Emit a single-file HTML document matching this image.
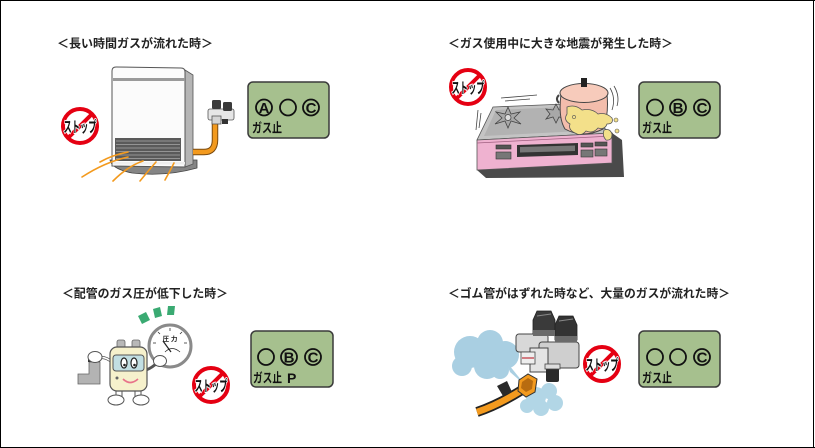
<!DOCTYPE html>
<html><head><meta charset="utf-8"><style>
html,body{margin:0;padding:0;background:#fff;}
svg{display:block;}
.t{font-family:"Liberation Sans","Noto Sans CJK JP",sans-serif;font-weight:bold;}
</style></head><body>
<svg width="815" height="448" viewBox="0 0 815 448" xmlns="http://www.w3.org/2000/svg">
<rect x="0" y="0" width="815" height="448" fill="#fff"/>
<rect x="0" y="0" width="815" height="1" fill="#000"/>
<rect x="0" y="0" width="1" height="448" fill="#000"/>
<rect x="813" y="0" width="1" height="448" fill="#000"/>
<rect x="0" y="447" width="815" height="1" fill="#000"/>

<!-- Titles -->
<text class="t" x="57" y="47.5" font-size="12" fill="#222" textLength="156" lengthAdjust="spacingAndGlyphs">＜長い時間ガスが流れた時＞</text>
<text class="t" x="448" y="47.5" font-size="12" fill="#222" textLength="225" lengthAdjust="spacingAndGlyphs">＜ガス使用中に大きな地震が発生した時＞</text>
<text class="t" x="62" y="297.5" font-size="12" fill="#222" textLength="166" lengthAdjust="spacingAndGlyphs">＜配管のガス圧が低下した時＞</text>
<text class="t" x="448" y="297.5" font-size="12" fill="#222" textLength="282" lengthAdjust="spacingAndGlyphs">＜ゴム管がはずれた時など、大量のガスが流れた時＞</text>

<!-- ===== Scene 1: heater ===== -->
<path d="M110,160 L197,160 L197,168 Q165,177 132,173 Q112,169 110,160 Z" fill="#858585" stroke="#444" stroke-width="0.8"/>
<polygon points="185,70 193,75 193,164 185,167" fill="#b5b5b5" stroke="#555" stroke-width="0.8"/>
<path d="M112,166 L112,71 Q112,67 116,67 L181,68 Q185,68 185,72 L185,167 Z" fill="#fbfbfb" stroke="#555" stroke-width="1"/>
<rect x="113" y="78" width="72" height="3" fill="#9a9a9a"/>
<rect x="115" y="138" width="66" height="23" fill="#5a5a5a"/>
<g stroke="#a8a8a8" stroke-width="0.8">
<line x1="116" y1="141" x2="180" y2="141"/><line x1="116" y1="144.5" x2="180" y2="144.5"/>
<line x1="116" y1="148" x2="180" y2="148"/><line x1="116" y1="151.5" x2="180" y2="151.5"/>
<line x1="116" y1="155" x2="180" y2="155"/><line x1="116" y1="158.5" x2="180" y2="158.5"/>
</g>
<rect x="113" y="162" width="72" height="2.5" fill="#eee"/>
<!-- hose -->
<path d="M193,152 L204,152 Q215,152 215,140 L215,122" fill="none" stroke="#7a4a10" stroke-width="6.5"/>
<path d="M193,152 L204,152 Q215,152 215,140 L215,122" fill="none" stroke="#f39a1e" stroke-width="4.5"/>
<!-- valve -->
<rect x="208" y="109" width="26" height="11" rx="2" fill="#e6e6e6" stroke="#555" stroke-width="0.8"/>
<rect x="212" y="116" width="9" height="8" fill="#d5d5d5" stroke="#555" stroke-width="0.8"/>
<rect x="212" y="100" width="9" height="9" rx="1.5" fill="#3a3a3a"/>
<rect x="223" y="102" width="9" height="9" rx="1.5" fill="#3a3a3a"/>
<rect x="222" y="119" width="6" height="5" fill="#333"/>
<!-- heat waves -->
<g fill="none" stroke="#f39a1e" stroke-width="1.6" stroke-linecap="round">
<path d="M100,162 Q112,155 128,152"/>
<path d="M82,177 Q105,162 128,157"/>
<path d="M113,181 Q128,166 143,161"/>
<path d="M140,181 Q149,170 156,162"/>
<path d="M165,180 Q170,171 174,163"/>
</g>
<!-- stop 1 -->
<g transform="translate(80,126)">
<circle r="17" fill="#fff" stroke="#e50012" stroke-width="4"/>
<line x1="-12" y1="12" x2="12" y2="-12" stroke="#e50012" stroke-width="4"/>
<text class="t" x="-16.5" y="6" font-size="15" fill="#111" stroke="#fff" stroke-width="2" paint-order="stroke" textLength="33" lengthAdjust="spacingAndGlyphs">ストップ</text>
</g>
<!-- panel 1 -->
<rect x="248" y="82" width="81" height="56" rx="5" fill="#a6c08e" stroke="#3a3a3a" stroke-width="1.5"/>
<g fill="none" stroke="#111" stroke-width="1.8">
<circle cx="264" cy="107.5" r="8"/><circle cx="288" cy="107.5" r="8"/><circle cx="311" cy="107.5" r="8"/>
</g>
<text class="t" x="264" y="113" font-size="15" text-anchor="middle" fill="#111">A</text>
<text class="t" x="311" y="113" font-size="15" text-anchor="middle" fill="#111">C</text>
<text class="t" x="252" y="132.5" font-size="13" fill="#111" textLength="30" lengthAdjust="spacingAndGlyphs">ガス止</text>

<!-- ===== Scene 2: stove ===== -->
<polygon points="612,133 622,140 624,177 486,178 477,170 612,163" fill="#4a4a4a"/>
<polygon points="493,107 565,104 612,133 477,140" fill="#c4c4c4" stroke="#555" stroke-width="0.8"/>
<polygon points="496,110 562,107 600,130 484,136" fill="#b2b2b2"/>
<polygon points="477,140 612,133 612,163 477,170" fill="#efb2d0" stroke="#555" stroke-width="0.8"/>
<line x1="477" y1="143" x2="612" y2="136" stroke="#a06080" stroke-width="0.8"/>
<polygon points="517,145 578,143 578,155 517,157" fill="#333"/>
<polygon points="520,147 575,145.5 575,151 520,152.5" fill="#777"/>
<g fill="#555" stroke="#333" stroke-width="0.6">
<rect x="496" y="145" width="15" height="4"/><rect x="496" y="152" width="15" height="7" fill="#777"/>
<rect x="581" y="143" width="12" height="4"/><rect x="595" y="142" width="12" height="4"/>
<rect x="581" y="150" width="12" height="7" fill="#777"/><rect x="595" y="149" width="12" height="7" fill="#777"/>
</g>
<!-- burners -->
<g fill="#a8a8a8" stroke="#444" stroke-width="0.8">
<polygon points="508,107 511,114 520,112 514,118 521,124 511,121 508,128 505,121 495,124 502,118 496,112 505,114"/>
<circle cx="508" cy="117.5" r="3" fill="#ddd"/>
<polygon points="556,104 559,110 566,109 562,114 567,119 559,117 556,123 553,117 546,119 550,114 546,109 553,110"/>
</g>
<!-- motion lines -->
<g stroke="#444" stroke-width="0.8" fill="none">
<line x1="501" y1="98" x2="537" y2="95"/><line x1="505" y1="101" x2="530" y2="99"/>
<line x1="478" y1="110" x2="476" y2="130"/><line x1="481" y1="113" x2="479" y2="128"/>
<path d="M610,88 Q616,98 612,110"/><path d="M614,86 Q620,96 617,106"/>
</g>
<!-- pot -->
<path d="M561,94 Q558,118 565,129 Q583,139 603,129 Q609,115 607,94 Z" fill="#f3bdac" stroke="#444" stroke-width="1"/>
<ellipse cx="584" cy="93" rx="24" ry="9.5" fill="#f7cbbb" stroke="#444" stroke-width="1"/>
<rect x="581" y="78" width="6" height="9" fill="#222"/>
<path d="M559,95 Q555,99 559,103" fill="none" stroke="#444" stroke-width="2"/>
<!-- spill -->
<path d="M567,107 Q575,104 582,110 Q592,108 598,114 Q606,112 612,118 Q614,124 607,124 Q605,130 598,128 Q593,134 586,131 Q581,137 575,133 Q568,130 570,124 Q563,120 567,114 Z" fill="#f3e08a" stroke="#555" stroke-width="0.8"/>
<path d="M604,130 Q610,128 612,134 Q612,141 606,140 Q602,136 604,130 Z" fill="#f3e08a" stroke="#555" stroke-width="0.8"/>
<circle cx="616" cy="120" r="2" fill="#f3e08a" stroke="#555" stroke-width="0.6"/>
<circle cx="617" cy="131" r="2" fill="#f3e08a" stroke="#555" stroke-width="0.6"/>
<circle cx="574" cy="117" r="1.6" fill="#f3e08a" stroke="#555" stroke-width="0.6"/>
<!-- stop 2 -->
<g transform="translate(468,87)">
<circle r="17" fill="#fff" stroke="#e50012" stroke-width="4"/>
<line x1="-12" y1="12" x2="12" y2="-12" stroke="#e50012" stroke-width="4"/>
<text class="t" x="-16.5" y="6" font-size="15" fill="#111" stroke="#fff" stroke-width="2" paint-order="stroke" textLength="33" lengthAdjust="spacingAndGlyphs">ストップ</text>
</g>
<!-- panel 2 -->
<rect x="639" y="82" width="81" height="56" rx="5" fill="#a6c08e" stroke="#3a3a3a" stroke-width="1.5"/>
<g fill="none" stroke="#111" stroke-width="1.8">
<circle cx="655" cy="107.5" r="8"/><circle cx="678" cy="107.5" r="8"/><circle cx="702" cy="107.5" r="8"/>
</g>
<text class="t" x="678" y="113" font-size="15" text-anchor="middle" fill="#111">B</text>
<text class="t" x="702" y="113" font-size="15" text-anchor="middle" fill="#111">C</text>
<text class="t" x="642" y="132.5" font-size="13" fill="#111" textLength="30" lengthAdjust="spacingAndGlyphs">ガス止</text>

<!-- ===== Scene 3: character ===== -->
<g fill="#3aaa72">
<polygon points="138,316 146,312 150,320 142,324"/>
<polygon points="153,309 160,307 162,316 155,318"/>
<polygon points="168,306 175,306 174,315 167,315"/>
</g>
<circle cx="170" cy="346" r="21" fill="#fff" stroke="#8a8a8a" stroke-width="3"/>
<g stroke="#333" stroke-width="0.8">
<line x1="170" y1="328" x2="170" y2="331"/><line x1="158" y1="332" x2="160" y2="334"/>
<line x1="182" y1="332" x2="180" y2="334"/><line x1="153" y1="343" x2="156" y2="343"/>
<line x1="187" y1="343" x2="184" y2="343"/>
</g>
<text class="t" x="170" y="341" font-size="6.5" text-anchor="middle" fill="#222">圧 力</text>
<line x1="171" y1="352" x2="163" y2="341" stroke="#222" stroke-width="1.2"/>
<path d="M165,352 Q172,345 180,352" fill="none" stroke="#222" stroke-width="0.8"/>
<path d="M78,374 L89,374 L89,362 L100,362 L100,384 L78,384 Z" fill="#b3b3b3" stroke="#666" stroke-width="0.8"/>
<rect x="88" y="357" width="12" height="5" fill="#333"/>
<path d="M98,358 Q105,356 112,362" fill="none" stroke="#555" stroke-width="3"/>
<path d="M98,358 Q105,356 112,362" fill="none" stroke="#fff" stroke-width="1.5"/>
<ellipse cx="95" cy="357" rx="7" ry="5.5" fill="#fff" stroke="#555" stroke-width="1"/>
<path d="M146,370 Q152,368 158,362" fill="none" stroke="#555" stroke-width="3"/>
<ellipse cx="160" cy="361" rx="6.5" ry="5.5" fill="#fff" stroke="#555" stroke-width="1"/>
<rect x="117" y="340" width="8" height="10" rx="2" fill="#b8b8b8" stroke="#666" stroke-width="0.8"/>
<rect x="132" y="340" width="8" height="10" rx="2" fill="#b8b8b8" stroke="#666" stroke-width="0.8"/>
<g fill="#fff" stroke="#555" stroke-width="1">
<rect x="116" y="388" width="6" height="9"/><rect x="135" y="388" width="6" height="9"/>
<ellipse cx="116" cy="400" rx="8" ry="5"/><ellipse cx="141" cy="400" rx="8" ry="5"/>
</g>
<rect x="110" y="347" width="37" height="44" rx="7" fill="#f6f1cc" stroke="#555" stroke-width="1.2"/>
<rect x="113" y="355" width="31" height="16" rx="3" fill="#c2dfe3" stroke="#555" stroke-width="1"/>
<g fill="#fff" stroke="#222" stroke-width="1.2">
<ellipse cx="124" cy="363" rx="3" ry="5"/><ellipse cx="134" cy="363" rx="3" ry="5"/>
</g>
<circle cx="124.5" cy="365" r="1.3" fill="#222"/><circle cx="134.5" cy="365" r="1.3" fill="#222"/>
<path d="M123,379 Q130,386 138,379" fill="none" stroke="#e8738a" stroke-width="1.6"/>
<circle cx="117" cy="378" r="1.5" fill="#666"/>
<g transform="translate(211,385)">
<circle r="17" fill="#fff" stroke="#e50012" stroke-width="4"/>
<line x1="-12" y1="12" x2="12" y2="-12" stroke="#e50012" stroke-width="4"/>
<text class="t" x="-16.5" y="6" font-size="15" fill="#111" stroke="#fff" stroke-width="2" paint-order="stroke" textLength="33" lengthAdjust="spacingAndGlyphs">ストップ</text>
</g>
<rect x="251" y="331" width="82" height="56" rx="5" fill="#a6c08e" stroke="#3a3a3a" stroke-width="1.5"/>
<g fill="none" stroke="#111" stroke-width="1.8">
<circle cx="266" cy="357" r="8"/><circle cx="289" cy="357" r="8"/><circle cx="313" cy="357" r="8"/>
</g>
<text class="t" x="289" y="362.5" font-size="15" text-anchor="middle" fill="#111">B</text>
<text class="t" x="313" y="362.5" font-size="15" text-anchor="middle" fill="#111">C</text>
<text class="t" x="253" y="382.5" font-size="13" fill="#111" textLength="29" lengthAdjust="spacingAndGlyphs">ガス止</text>
<text class="t" x="287" y="383" font-size="14" fill="#111">P</text>

<!-- ===== Scene 4: valve & gas ===== -->
<g fill="#a9cfe2">
<circle cx="470" cy="352" r="16"/><circle cx="490" cy="343" r="13"/><circle cx="505" cy="355" r="14"/>
<circle cx="487" cy="366" r="13"/><circle cx="462" cy="366" r="10"/><circle cx="500" cy="370" r="9"/>
<polygon points="505,360 526,386 510,372"/>
</g>
<g fill="#b2d6e6">
<circle cx="536" cy="397" r="10"/><circle cx="549" cy="391" r="8"/><circle cx="555" cy="403" r="8"/>
<circle cx="541" cy="408" r="8"/><circle cx="527" cy="406" r="7"/>
</g>
<rect x="516" y="334" width="32" height="18" rx="3" fill="#d8d8d8" stroke="#444" stroke-width="1"/>
<rect x="539" y="342" width="40" height="26" rx="3" fill="#cfcfcf" stroke="#444" stroke-width="1"/>
<rect x="530" y="348" width="18" height="24" fill="#e4e4e4" stroke="#444" stroke-width="1"/>
<rect x="521" y="352" width="14" height="12" fill="#eee" stroke="#444" stroke-width="0.8"/>
<line x1="522" y1="358" x2="534" y2="358" stroke="#c0303a" stroke-width="1.2"/>
<rect x="546" y="368" width="13" height="14" rx="2" fill="#2a2a2a"/>
<rect x="545" y="364" width="15" height="5" fill="#ddd" stroke="#444" stroke-width="0.8"/>
<path d="M533,320 L537,311 L551,311 L555,320 L555,334 L533,334 Z" fill="#3a3a3a" stroke="#222" stroke-width="0.8"/>
<path d="M537,316 L551,314" stroke="#888" stroke-width="1"/>
<path d="M555,325 L559,316 L573,316 L577,325 L577,340 L555,340 Z" fill="#333" stroke="#222" stroke-width="0.8"/>
<path d="M559,321 L573,319" stroke="#888" stroke-width="1"/>
<rect x="533" y="330" width="22" height="6" fill="#6a6a6a"/>
<rect x="555" y="336" width="22" height="6" fill="#6a6a6a"/>
<path d="M477,412 Q498,405 522,390" fill="none" stroke="#222" stroke-width="10"/>
<path d="M477,412 Q498,405 522,390" fill="none" stroke="#f39a1e" stroke-width="6.5"/>
<path d="M497,386 L507,381 L512,392 L503,396 Z" fill="#2a2a2a"/>
<polygon points="519,380 528,374 537,379 535,392 526,397 518,391" fill="#f39a1e" stroke="#333" stroke-width="1"/>
<polygon points="522,382 528,378 533,381 532,389 526,392 521,388" fill="#b86c10"/>
<g transform="translate(602,364)">
<circle r="17" fill="#fff" stroke="#e50012" stroke-width="4"/>
<line x1="-12" y1="12" x2="12" y2="-12" stroke="#e50012" stroke-width="4"/>
<text class="t" x="-16.5" y="6" font-size="15" fill="#111" stroke="#fff" stroke-width="2" paint-order="stroke" textLength="33" lengthAdjust="spacingAndGlyphs">ストップ</text>
</g>
<rect x="639" y="331" width="81" height="56" rx="5" fill="#a6c08e" stroke="#3a3a3a" stroke-width="1.5"/>
<g fill="none" stroke="#111" stroke-width="1.8">
<circle cx="655" cy="357" r="8"/><circle cx="678" cy="357" r="8"/><circle cx="702" cy="357" r="8"/>
</g>
<text class="t" x="702" y="362.5" font-size="15" text-anchor="middle" fill="#111">C</text>
<text class="t" x="642" y="382.5" font-size="13" fill="#111" textLength="30" lengthAdjust="spacingAndGlyphs">ガス止</text>
</svg>
</body></html>
